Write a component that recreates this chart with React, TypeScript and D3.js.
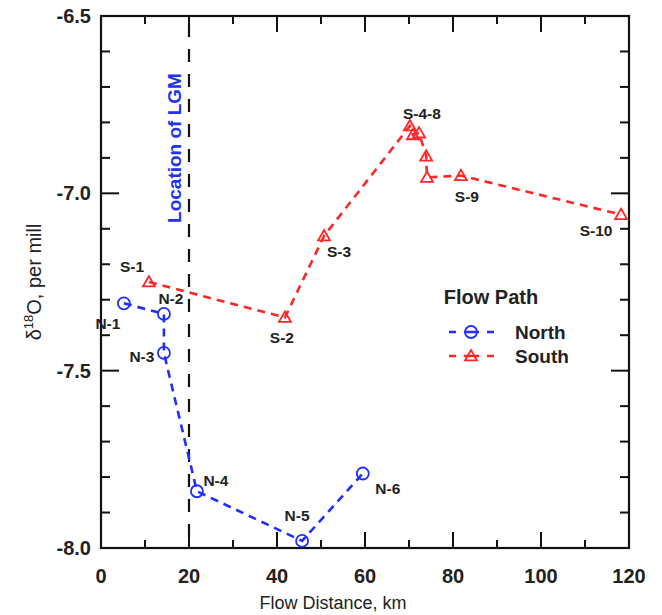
import React from 'react';
import * as d3 from 'd3';

// sample sites along the two flow paths
const northLabels = ['N-1', 'N-2', 'N-3', 'N-4', 'N-5', 'N-6'];
const northDistance = [5.2, 14.3, 14.3, 21.8, 45.7, 59.5];
const northD18O = [-7.31, -7.34, -7.45, -7.84, -7.98, -7.79];

const southLabels = ['S-1', 'S-2', 'S-3', 'S-4-8', '', '', '', '', 'S-9', 'S-10'];
const southDistance = [10.9, 41.8, 50.7, 70.2, 70.9, 72.3, 73.9, 74.1, 81.8, 118.2];
const southD18O = [-7.25, -7.35, -7.12, -6.81, -6.835, -6.83, -6.895, -6.955, -6.95, -7.06];

const xTicks = [0, 20, 40, 60, 80, 100, 120];
const yTicks = [-8.0, -7.5, -7.0, -6.5];
const lgmDistance = 20;

// label placement relative to the point (px)
const labelOffset: Record<string, [number, number]> = {
  'N-1': [-16, 20], 'N-2': [7, -15], 'N-3': [-22, 4], 'N-4': [19, -11],
  'N-5': [-5, -25], 'N-6': [25, 15],
  'S-1': [-17, -16], 'S-2': [-3, 20], 'S-3': [15, 16], 'S-4-8': [12, -12],
  'S-9': [6, 21], 'S-10': [-25, 16],
};

const W = 662, H = 615;
const BLUE = '#1f2fff';
const RED = '#ff2626';
const FONT = '"Liberation Sans", Arial, sans-serif';

export default function App() {
  const x = d3.scaleLinear().domain([0, 120]).range([101, 629]);
  const y = d3.scaleLinear().domain([-8, -6.5]).range([548, 16]);
  const [x0, x1] = x.range();
  const [y0, y1] = y.range();

  const north = northDistance.map((d, i) => ({ x: d, y: northD18O[i], label: northLabels[i] }));
  const south = southDistance.map((d, i) => ({ x: d, y: southD18O[i], label: southLabels[i] }));

  const line = d3.line<{ x: number; y: number }>().x(d => x(d.x)).y(d => y(d.y));
  const tri = d3.symbol().type(d3.symbolTriangle).size(62)()!;

  const xMinor = d3.range(0, 121, 10);
  const yMinor = d3.range(-8, -6.49, 0.1);

  const circle = (cx: number, cy: number, k: string) => (
    <circle key={k} cx={cx} cy={cy} r={6} fill="white" fillOpacity={0} stroke={BLUE} strokeWidth={1.8} />
  );
  const triangle = (cx: number, cy: number, k: string) => (
    <path key={k} d={tri} transform={`translate(${cx},${cy + 1})`} fill="none" stroke={RED} strokeWidth={1.8} />
  );

  return (
    <div style={{ position: 'absolute', left: 0, top: 0 }}>
      <svg width={W} height={H} style={{ display: 'block', fontFamily: FONT }}>
        <rect width={W} height={H} fill="white" />

        {/* ticks on all four sides */}
        {xMinor.map(t => {
          const major = t % 20 === 0;
          const len = major ? 16 : 8;
          return (
            <g key={'xt' + t} stroke="#111" strokeWidth={2}>
              <line x1={x(t)} x2={x(t)} y1={y0} y2={y0 - len} />
              <line x1={x(t)} x2={x(t)} y1={y1} y2={y1 + len} />
            </g>
          );
        })}
        {yMinor.map((t, i) => {
          const major = i % 5 === 0;
          const len = major ? 18 : 9;
          return (
            <g key={'yt' + i} stroke="#111" strokeWidth={2}>
              <line x1={x0} x2={x0 + len} y1={y(t)} y2={y(t)} />
              <line x1={x1} x2={x1 - len} y1={y(t)} y2={y(t)} />
            </g>
          );
        })}
        <rect x={x0} y={y1} width={x1 - x0} height={y0 - y1} fill="none" stroke="#111" strokeWidth={2.2} />

        {/* tick labels */}
        {xTicks.map(t => (
          <text key={'xl' + t} x={x(t)} y={583} textAnchor="middle" fontSize={20} fontWeight="bold" fill="#222">{t}</text>
        ))}
        {yTicks.map(t => (
          <text key={'yl' + t} x={91} y={y(t) + 7} textAnchor="end" fontSize={20} fontWeight="bold" fill="#222">{t.toFixed(1)}</text>
        ))}

        {/* axis titles */}
        <text x={333} y={609} textAnchor="middle" fontSize={18} fill="#222">Flow Distance, km</text>
        <text transform="translate(41,282) rotate(-90)" textAnchor="middle" fontSize={20} fill="#222">
          δ<tspan fontSize={13} dy={-8}>18</tspan><tspan dy={8}>O, per mill</tspan>
        </text>

        {/* LGM location */}
        <line x1={x(lgmDistance)} x2={x(lgmDistance)} y1={y1 + 8} y2={y0} stroke="#111" strokeWidth={2.2} strokeDasharray="13 12" />
        <text transform="translate(181,148) rotate(-90)" textAnchor="middle" fontSize={19} fontWeight="bold" fill="#2233ee">Location of LGM</text>

        {/* series */}
        <path d={line(north)!} fill="none" stroke={BLUE} strokeWidth={2.6} strokeDasharray="8 6" />
        <path d={line(south)!} fill="none" stroke={RED} strokeWidth={2.6} strokeDasharray="8 6" />
        {north.map((d, i) => circle(x(d.x), y(d.y), 'n' + i))}
        {south.map((d, i) => triangle(x(d.x), y(d.y), 's' + i))}

        {[...north, ...south].filter(d => d.label).map(d => {
          const [dx, dy] = labelOffset[d.label];
          return (
            <text key={'lab' + d.label} x={x(d.x) + dx} y={y(d.y) + dy} textAnchor="middle" dominantBaseline="central"
              fontSize={15.5} fontWeight="bold" fill="#222">{d.label}</text>
          );
        })}

        {/* legend */}
        <text x={491} y={304} textAnchor="middle" fontSize={20} fontWeight="bold" fill="#222">Flow Path</text>
        <g>
          <line x1={449} x2={494} y1={332} y2={332} stroke={BLUE} strokeWidth={2.5} strokeDasharray="7 8 15 8 7" />
          {circle(471, 332, 'lc')}
          <text x={515} y={339} fontSize={19} fontWeight="bold" fill="#222">North</text>
          <line x1={449} x2={494} y1={356} y2={356} stroke={RED} strokeWidth={2.5} strokeDasharray="7 8 15 8 7" />
          {triangle(471, 356, 'lt')}
          <text x={515} y={363} fontSize={19} fontWeight="bold" fill="#222">South</text>
        </g>
      </svg>
    </div>
  );
}
